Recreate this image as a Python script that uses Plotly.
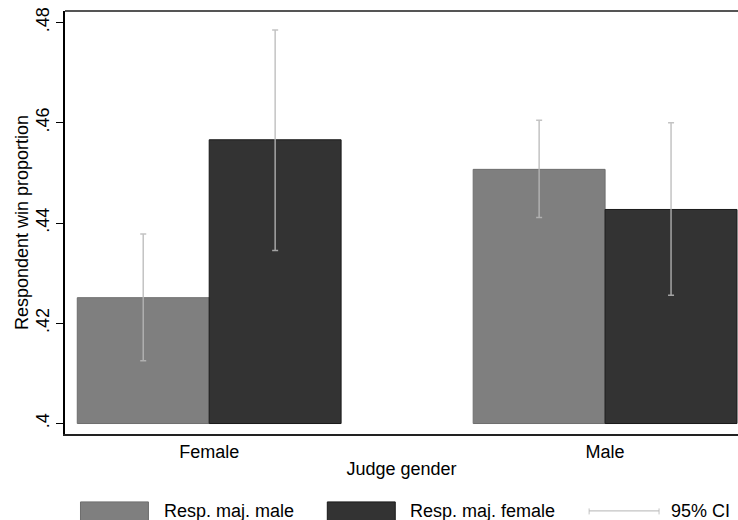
import plotly.graph_objects as go

# Respondent win proportion by judge gender, split by respondent majority gender
judge_gender = ["Female", "Male"]
resp_maj_male = [0.4251, 0.4507]
resp_maj_male_lo = [0.4125, 0.4411]
resp_maj_male_hi = [0.4378, 0.4605]
resp_maj_female = [0.4566, 0.4427]
resp_maj_female_lo = [0.4345, 0.4256]
resp_maj_female_hi = [0.4785, 0.4600]

y_ticks = [0.40, 0.42, 0.44, 0.46, 0.48]
y_tick_labels = [".4", ".42", ".44", ".46", ".48"]

BASE = 0.40
FONT = "Liberation Sans, Arial, Helvetica, sans-serif"
CI_COLOR = "rgba(185,185,185,0.85)"
W, H = 738, 520
L, R, T, B = 64.5, 0, 10.5, 86


def px_x(px):
    return (px - L) / (W - L - R)


def px_y(py):
    return (H - B - py) / (H - B - T)


def bar_trace(name, vals, lo, hi, fill, edge):
    return go.Bar(
        name=name,
        x=judge_gender,
        y=[v - BASE for v in vals],
        base=BASE,
        marker=dict(color=fill, line=dict(color=edge, width=1)),
        error_y=dict(
            type="data",
            symmetric=False,
            array=[h - v for h, v in zip(hi, vals)],
            arrayminus=[v - l for v, l in zip(vals, lo)],
            color=CI_COLOR,
            thickness=1.5,
            width=3,
        ),
        showlegend=False,
    )


fig = go.Figure()
fig.add_trace(bar_trace("Resp. maj. male", resp_maj_male, resp_maj_male_lo,
                        resp_maj_male_hi, "#7f7f7f", "#6e6e6e"))
fig.add_trace(bar_trace("Resp. maj. female", resp_maj_female, resp_maj_female_lo,
                        resp_maj_female_hi, "#333333", "#1a1a1a"))

fig.update_layout(
    width=W,
    height=H,
    margin=dict(l=L, r=R, t=T, b=B, pad=0),
    paper_bgcolor="white",
    plot_bgcolor="white",
    barmode="group",
    bargap=0.3336,
    bargroupgap=0,
    font=dict(family=FONT, size=18, color="black"),
)

fig.update_xaxes(
    range=[-0.3642, 1.3357],
    showline=True,
    linecolor="#222222",
    linewidth=2,
    ticks="",
    showgrid=False,
    zeroline=False,
    tickfont=dict(size=18),
    title=dict(text="Judge gender", font=dict(size=18), standoff=2),
)

fig.update_yaxes(
    range=[0.39791, 0.48229],
    tickmode="array",
    tickvals=y_ticks,
    ticktext=y_tick_labels,
    tickangle=-90,
    ticks="outside",
    ticklen=7,
    tickwidth=1.2,
    tickcolor="black",
    showline=True,
    linecolor="black",
    linewidth=1.6,
    showgrid=False,
    zeroline=False,
    tickfont=dict(size=18),
    title=dict(text="Respondent win proportion", font=dict(size=18), standoff=0),
)

# top edge of the plot region
fig.add_shape(type="line", xref="paper", yref="paper", x0=0, x1=1, y0=1, y1=1,
              line=dict(color="#555555", width=2))

# legend drawn below the axis title
legend_y = px_y(511)
fig.add_shape(type="rect", xref="paper", yref="paper",
              x0=px_x(80), x1=px_x(148), y0=px_y(502), y1=px_y(522),
              fillcolor="#7f7f7f", line=dict(color="#6e6e6e", width=1))
fig.add_shape(type="rect", xref="paper", yref="paper",
              x0=px_x(327), x1=px_x(395), y0=px_y(502), y1=px_y(522),
              fillcolor="#333333", line=dict(color="#1a1a1a", width=1))
fig.add_shape(type="line", xref="paper", yref="paper",
              x0=px_x(589), x1=px_x(659), y0=legend_y, y1=legend_y,
              line=dict(color=CI_COLOR, width=1.2))
for cx in (589, 659):
    fig.add_shape(type="line", xref="paper", yref="paper",
                  x0=px_x(cx), x1=px_x(cx), y0=px_y(508.5), y1=px_y(514.5),
                  line=dict(color=CI_COLOR, width=1))

for text, x0 in (("Resp. maj. male", 161.7), ("Resp. maj. female", 408),
                 ("95% CI", 669)):
    fig.add_annotation(text=text, xref="paper", yref="paper", x=px_x(x0),
                       y=legend_y, xanchor="left", yanchor="middle",
                       showarrow=False, font=dict(size=18, color="black"))

fig.write_html("out.html")
